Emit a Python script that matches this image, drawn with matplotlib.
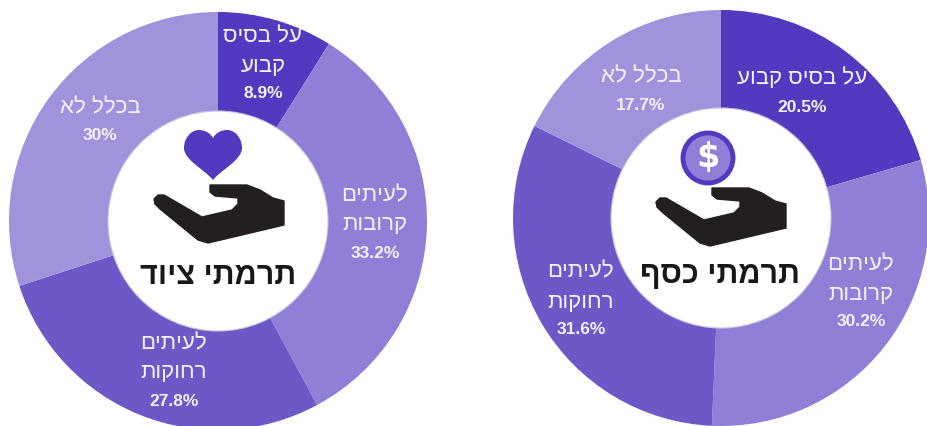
import matplotlib
matplotlib.use("Agg")
import matplotlib.pyplot as plt
from matplotlib.path import Path
from matplotlib.patches import PathPatch, Circle

W, H = 928, 426
categories_equipment = ["על בסיס קבוע", "לעיתים קרובות", "לעיתים רחוקות", "בכלל לא"]
values_equipment = [8.9, 33.2, 27.8, 30.0]
pct_equipment = ["8.9%", "33.2%", "27.8%", "30%"]
values_money = [20.5, 30.2, 31.6, 17.7]
pct_money = ["20.5%", "30.2%", "31.6%", "17.7%"]
title_equipment = "תרמתי ציוד"
title_money = "תרמתי כסף"
colors = ["#5339BF", "#917ED6", "#6E57C7", "#A092DB"]

def vis(s):
    """matplotlib has no bidi layout: reverse Hebrew for display."""
    return s[::-1] if not any(c.isdigit() for c in s) else s

fig = plt.figure(figsize=(W / 100, H / 100), dpi=100)
ax = fig.add_axes([0, 0, 1, 1])
FONT = "Liberation Sans"

def Y(y):
    return H - y

def donut(values, cx, cy, r, r_in):
    ax.pie(values, colors=colors, startangle=90, counterclock=False,
           center=(cx, Y(cy)), radius=r, frame=True,
           wedgeprops=dict(linewidth=0))
    ax.add_patch(Circle((cx, Y(cy)), r_in, fc="white", ec="#C9C4DE", lw=0.8, zorder=3))

donut(values_equipment, 218, 221, 209, 110)
donut(values_money, 721, 218, 208, 110)

def label(lines, xc, ys, size=16):
    for ln, y in zip(lines, ys):
        is_pct = "%" in ln
        ax.text(xc, Y(y), vis(ln), ha="center", va="center", color="#F4F1FC",
                fontsize=12.5 if is_pct else size, family=FONT,
                fontweight="bold" if is_pct else "normal", zorder=4)

# left donut
label(["על בסיס", "קבוע", pct_equipment[0]], 263, [37, 66, 94])
label(["לעיתים", "קרובות", pct_equipment[1]], 375, [196, 224, 253])
label(["לעיתים", "רחוקות", pct_equipment[2]], 174, [344, 372, 402])
label(["בכלל לא", pct_equipment[3]], 100, [108, 136])
# right donut
label([categories_equipment[0], pct_money[0]], 802, [78, 107])
label(["לעיתים", "קרובות", pct_money[1]], 861, [265, 295, 322])
label(["לעיתים", "רחוקות", pct_money[2]], 581, [272, 302, 330])
label([categories_equipment[3], pct_money[3]], 641, [77, 106])

ax.text(218, Y(276), vis(title_equipment), ha="center", va="center", fontsize=22,
        fontweight="bold", family=FONT, color="#1B1719", zorder=5)
ax.text(720, Y(275), vis(title_money), ha="center", va="center", fontsize=22,
        fontweight="bold", family=FONT, color="#1B1719", zorder=5)

# hand pictogram, outline (px)
hand_pts = [(210, 185), (247, 185), (260, 190), (273, 198), (284, 201), (284, 225),
            (208, 243), (198, 240), (160, 209), (155, 204), (154, 199), (158, 195), (164, 195),
            (202, 217), (232, 210), (238, 204), (238, 198), (215, 196), (210, 192), (210, 185)]

def hand(dx, dy):
    pts = [(x + dx, Y(y + dy)) for x, y in hand_pts]
    codes = [Path.MOVETO] + [Path.LINETO] * (len(pts) - 2) + [Path.CLOSEPOLY]
    ax.add_patch(PathPatch(Path(pts, codes), fc="#231F20", ec="#231F20", lw=1,
                           joinstyle="round", zorder=5))

hand(0, 0)
hand(502, 3)

# heart
h = [(213, 180),
     (205, 170), (184, 160), (184, 148),
     (184, 138), (191, 130), (199, 130),
     (206, 130), (211, 134), (213, 138),
     (215, 134), (220, 130), (227, 130),
     (235, 130), (242, 138), (242, 148),
     (242, 160), (221, 170), (213, 180)]
h_codes = [Path.MOVETO] + [Path.CURVE4] * 18
ax.add_patch(PathPatch(Path([(x, Y(y)) for x, y in h], h_codes), fc=colors[0], ec="none", zorder=5))

# coin
ax.add_patch(Circle((708, Y(158)), 25, fc=colors[1], ec=colors[0], lw=3.5, zorder=5))
ax.text(708, Y(157), "$", ha="center", va="center", fontsize=24, fontweight="bold",
        family="DejaVu Sans", color="white", zorder=6)

ax.set_xlim(0, W)
ax.set_ylim(0, H)
ax.set_aspect("auto")
ax.axis("off")
fig.savefig("out.png", dpi=100, facecolor="white")
